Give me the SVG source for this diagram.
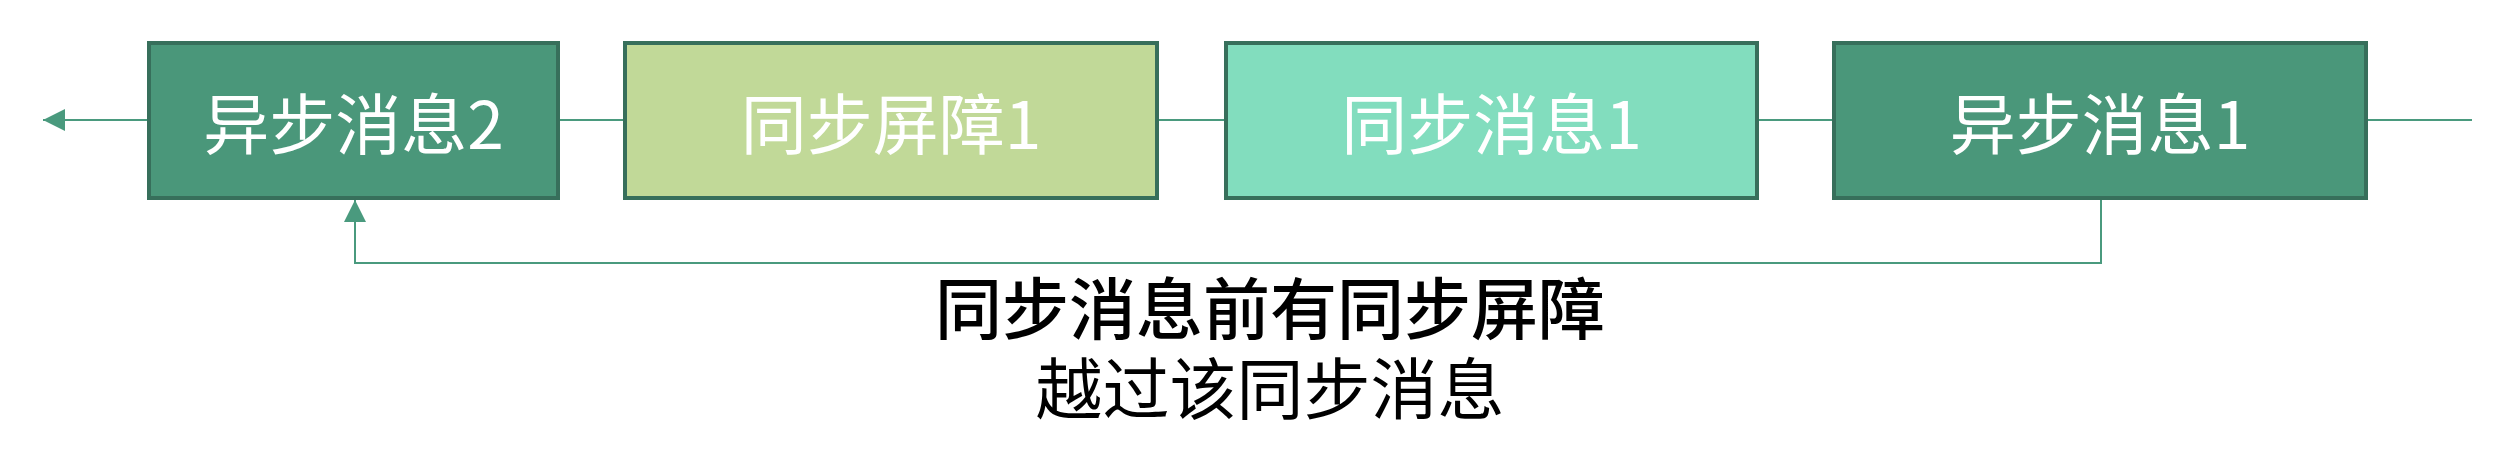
<svg xmlns="http://www.w3.org/2000/svg" width="2512" height="454" viewBox="0 0 2512 454">
  <style>
    .box { stroke: #376F5B; stroke-width: 4; }
    .dark { fill: #4A977A; }
    .lime { fill: #C1D998; }
    .mint { fill: #82DDBE; }
    .lbl { font-family: "Noto Sans CJK SC", "Liberation Sans", sans-serif; font-size: 66px; fill: #FFFFFF; font-weight: 400; text-anchor: middle; dominant-baseline: central; }
    .note { font-family: "Noto Sans CJK SC", "Liberation Sans", sans-serif; font-size: 67px; fill: #000000; text-anchor: middle; dominant-baseline: central; }
    .conn { fill: none; stroke: #4A9A7E; stroke-width: 2; }
  </style>
  <defs>
    <marker id="arrow" markerUnits="userSpaceOnUse" markerWidth="22" markerHeight="22" viewBox="0 0 22 22" refX="22" refY="11" orient="auto">
      <path d="M0,0 L22,11 L0,22 Z" fill="#4A9A7E"/>
    </marker>
  </defs>
  <rect width="2512" height="454" fill="#FFFFFF"/>
  <g id="connectors">
    <line class="conn" x1="147" y1="120" x2="43" y2="120" marker-end="url(#arrow)"/>
    <line class="conn" x1="560" y1="120" x2="623" y2="120"/>
    <line class="conn" x1="1159" y1="120" x2="1224" y2="120"/>
    <line class="conn" x1="1759" y1="120" x2="1832" y2="120"/>
    <line class="conn" x1="2368" y1="120" x2="2472" y2="120"/>
    <polyline class="conn" points="2101,200 2101,263 355,263 355,200" marker-end="url(#arrow)"/>
  </g>
  <g id="node-async2">
    <rect class="box dark" x="149" y="43" width="409" height="155"/>
    <text class="lbl" x="353.5" y="120">异步消息2</text>
  </g>
  <g id="node-barrier1">
    <rect class="box lime" x="625" y="43" width="532" height="155"/>
    <text class="lbl" x="891" y="120">同步屏障1</text>
  </g>
  <g id="node-sync1">
    <rect class="box mint" x="1226" y="43" width="531" height="155"/>
    <text class="lbl" x="1491.5" y="120">同步消息1</text>
  </g>
  <g id="node-async1">
    <rect class="box dark" x="1834" y="43" width="532" height="155"/>
    <text class="lbl" x="2100" y="120">异步消息1</text>
  </g>
  <g id="note">
    <text class="note"><tspan x="1270" y="304" font-weight="500">同步消息前有同步屏障</tspan><tspan x="1270" y="384" font-weight="400">越过该同步消息</tspan></text>
  </g>
</svg>
